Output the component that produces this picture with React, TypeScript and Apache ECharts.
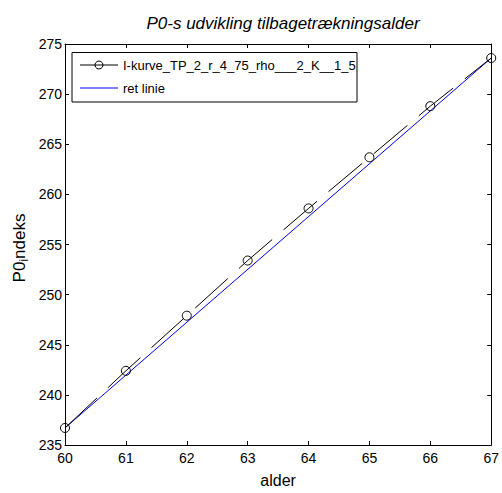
import React, { useEffect, useRef } from "react";
import * as echarts from "echarts";

const ages = [60, 61, 62, 63, 64, 65, 66, 67];
const pIndeks = [236.7, 242.4, 247.9, 253.4, 258.6, 263.7, 268.8, 273.6];
const retLinieX = [60, 67];
const retLinieY = [236.7, 273.6];
const seriesNames = ["I-kurve_TP_2_r_4_75_rho___2_K__1_5", "ret linie"];
const titleText = "P0-s udvikling tilbagetrækningsalder";
const yLabelParts = ["P0", "i", "ndeks"];

const FONT = "'Liberation Sans', Arial, sans-serif";

function measure(text: string, font: string): number {
  const c = document.createElement("canvas").getContext("2d")!;
  c.font = font;
  return c.measureText(text).width;
}

export default function App() {
  const ref = useRef<HTMLDivElement>(null);
  useEffect(() => {
    document.body.style.margin = "0";
    const chart = echarts.init(ref.current!, null, { renderer: "svg" });
    const axisCommon = {
      type: "value" as const,
      axisLine: { show: true, onZero: false, lineStyle: { color: "#000", width: 1 } },
      axisTick: { show: true, inside: true, length: 4, lineStyle: { color: "#000" } },
      splitLine: { show: false },
    };
    const baseFont = `17px ${FONT}`;
    const subFont = `12px ${FONT}`;
    const w0 = measure(yLabelParts[0], baseFont);
    const w1 = measure(yLabelParts[1], subFont);
    const w2 = measure(yLabelParts[2], baseFont);
    const total = w0 + w1 + w2;
    const startX = -total / 2;
    chart.setOption({
      animation: false,
      backgroundColor: "#fff",
      textStyle: { fontFamily: FONT },
      title: {
        text: titleText,
        left: 278,
        textAlign: "center",
        top: 10,
        textStyle: { fontFamily: FONT, fontStyle: "italic", fontWeight: "normal", fontSize: 17, color: "#000" },
      },
      grid: { left: 65, right: 10, top: 44, bottom: 44, containLabel: false },
      xAxis: [
        {
          ...axisCommon,
          position: "bottom",
          min: 60,
          max: 67,
          interval: 1,
          name: "alder",
          nameLocation: "middle",
          nameGap: 27,
          nameTextStyle: { fontFamily: FONT, fontSize: 16, color: "#000" },
          axisLabel: { color: "#000", fontSize: 14, fontFamily: FONT, margin: 6 },
        },
        {
          ...axisCommon,
          position: "top",
          min: 60,
          max: 67,
          interval: 1,
          axisLabel: { show: false },
        },
      ],
      yAxis: [
        {
          ...axisCommon,
          position: "left",
          min: 235,
          max: 275,
          interval: 5,
          axisLabel: { color: "#000", fontSize: 14, fontFamily: FONT, margin: 3 },
        },
        {
          ...axisCommon,
          position: "right",
          min: 235,
          max: 275,
          interval: 5,
          axisLabel: { show: false },
        },
      ],
      series: [
        {
          name: seriesNames[0],
          type: "line",
          xAxisIndex: 0,
          yAxisIndex: 0,
          data: ages.map((a, i) => [a, pIndeks[i]]),
          symbol: "circle",
          symbolSize: 9,
          itemStyle: { color: "rgba(0,0,0,0)", borderColor: "#000", borderWidth: 1 },
          lineStyle: { color: "#000", width: 1, type: [44, 15] },
          z: 3,
        },
        {
          name: seriesNames[1],
          type: "line",
          xAxisIndex: 0,
          yAxisIndex: 0,
          data: retLinieX.map((x, i) => [x, retLinieY[i]]),
          symbol: "none",
          lineStyle: { color: "#0000ff", width: 1 },
          z: 2,
        },
      ],
      graphic: [
        {
          type: "group",
          x: 19,
          y: 248,
          rotation: Math.PI / 2,
          children: [
            { type: "text", x: startX, y: 0, style: { text: yLabelParts[0], fill: "#000", font: baseFont, verticalAlign: "middle", align: "left" } },
            { type: "text", x: startX + w0, y: 5, style: { text: yLabelParts[1], fill: "#000", font: subFont, verticalAlign: "middle", align: "left" } },
            { type: "text", x: startX + w0 + w1, y: 0, style: { text: yLabelParts[2], fill: "#000", font: baseFont, verticalAlign: "middle", align: "left" } },
          ],
        },
        {
          type: "rect",
          shape: { x: 72, y: 52.5, width: 285, height: 49.5 },
          style: { fill: "#fff", stroke: "#000", lineWidth: 1 },
          z: 10,
        },
        { type: "line", shape: { x1: 80, y1: 65, x2: 118, y2: 65 }, style: { stroke: "#000", lineWidth: 1 }, z: 11 },
        { type: "circle", shape: { cx: 99, cy: 65, r: 4 }, style: { fill: "rgba(0,0,0,0)", stroke: "#000", lineWidth: 1 }, z: 12 },
        {
          type: "text",
          x: 123,
          y: 65,
          style: { text: seriesNames[0], fill: "#000", font: `13px ${FONT}`, verticalAlign: "middle" },
          z: 11,
        },
        { type: "line", shape: { x1: 80, y1: 88, x2: 118, y2: 88 }, style: { stroke: "#0000ff", lineWidth: 1 }, z: 11 },
        {
          type: "text",
          x: 123,
          y: 88,
          style: { text: seriesNames[1], fill: "#000", font: `13px ${FONT}`, verticalAlign: "middle" },
          z: 11,
        },
      ],
    });
    return () => chart.dispose();
  }, []);
  return <div ref={ref} style={{ width: 502, height: 493 }} />;
}
